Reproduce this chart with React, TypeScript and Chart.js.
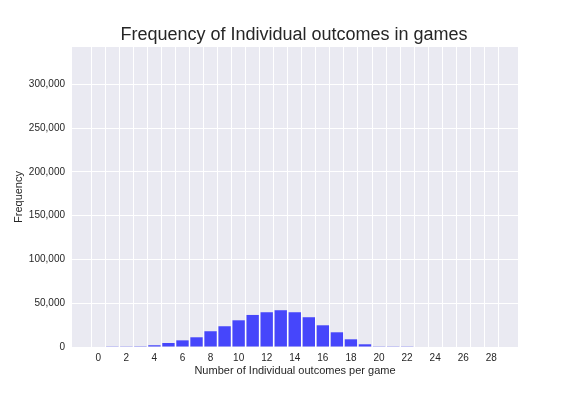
import React, { useEffect, useRef } from "react";
import { Chart, registerables } from "chart.js";

Chart.register(...registerables);

const outcomes = [0,1,2,3,4,5,6,7,8,9,10,11,12,13,14,15,16,17,18,19,20,21,22,23,24,25,26,27,28];
const frequency = [0,800,800,900,2000,4600,7600,11100,18000,23700,30500,36600,39700,42000,39700,34000,24800,16800,8800,3100,800,800,800,0,0,0,0,0,0];
const yTicks = [0,50000,100000,150000,200000,250000,300000];
const xTicks = [0,1,2,3,4,5,6,7,8,9,10,11,12,13,14,15,16,17,18,19,20,21,22,23,24,25,26,27,28];

const FONT = "'Liberation Sans', Arial, sans-serif";
const TEXT = "#262626";

export default function App() {
  const ref = useRef<HTMLCanvasElement>(null);
  useEffect(() => {
    const ctx = ref.current!;
    const bgPlugin = {
      id: "bg",
      beforeDraw(chart: any) {
        const { ctx, chartArea } = chart;
        ctx.save();
        ctx.fillStyle = "#EAEAF2";
        ctx.fillRect(chartArea.left, chartArea.top, chartArea.right - chartArea.left, chartArea.bottom - chartArea.top);
        ctx.restore();
      },
    };
    const chart = new Chart(ctx, {
      type: "bar",
      data: {
        datasets: [
          {
            data: outcomes.map((x, i) => ({ x, y: frequency[i] })),
            backgroundColor: "rgba(0,0,255,0.7)",
            borderWidth: 0,
            barPercentage: 0.88,
            categoryPercentage: 1,
          },
        ],
      },
      options: {
        animation: false,
        responsive: false,
        maintainAspectRatio: false,
        layout: { padding: { left: 12, right: 0, top: 0, bottom: 18 } },
        plugins: {
          legend: { display: false },
          tooltip: { enabled: false },
          title: {
            display: true,
            text: "Frequency of Individual outcomes in games",
            color: TEXT,
            font: { family: FONT, size: 18, weight: "normal", lineHeight: 1.2 },
            padding: { top: 24, bottom: 1.4 },
          },
        },
        scales: {
          x: {
            type: "linear",
            offset: false,
            min: -1.87,
            max: 29.9,
            afterBuildTicks(scale: any) {
              scale.ticks = xTicks.map((v) => ({ value: v }));
            },
            afterFit(scale: any) {
              scale.height = 31;
            },
            ticks: {
              autoSkip: false,
              maxRotation: 0,
              padding: 5,
              color: TEXT,
              font: { family: FONT, size: 10 },
              callback: (v: any) => (Number(v) % 2 === 0 ? String(v) : ""),
            },
            grid: { color: "#ffffff", lineWidth: 1, drawTicks: false },
            border: { display: false },
            title: {
              display: true,
              text: "Number of Individual outcomes per game",
              color: TEXT,
              font: { family: FONT, size: 11 },
              padding: { top: 3, bottom: 0 },
            },
          },
          y: {
            type: "linear",
            min: 0,
            max: 342650,
            afterBuildTicks(scale: any) {
              scale.ticks = yTicks.map((v) => ({ value: v }));
            },
            afterFit(scale: any) {
              scale.width = 60;
            },
            ticks: {
              padding: 7,
              color: TEXT,
              font: { family: FONT, size: 10 },
              callback: (v: any) => Number(v).toLocaleString("en-US"),
            },
            grid: { color: "#ffffff", lineWidth: 1, drawTicks: false },
            border: { display: false },
            title: {
              display: true,
              text: "Frequency",
              color: TEXT,
              font: { family: FONT, size: 11 },
              padding: { top: 0, bottom: 4 },
            },
          },
          spacer: {
            type: "linear",
            position: "right",
            display: true,
            afterFit(scale: any) {
              scale.width = 58;
            },
            ticks: { display: false },
            grid: { display: false, drawTicks: false },
            border: { display: false },
          },
        },
      },
      plugins: [bgPlugin],
    } as any);
    return () => chart.destroy();
  }, []);
  return (
    <div style={{ position: "fixed", left: 0, top: 0, width: 576, height: 396, background: "#ffffff" }}>
      <canvas ref={ref} width={576} height={396} style={{ width: 576, height: 396, display: "block" }} />
    </div>
  );
}
